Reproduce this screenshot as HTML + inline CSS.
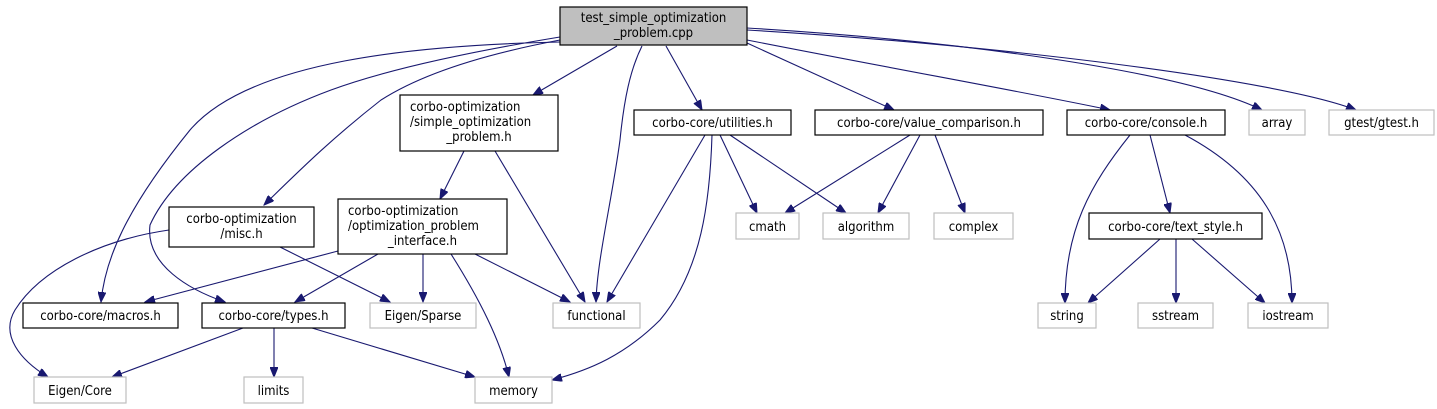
<!DOCTYPE html>
<html><head><meta charset="utf-8"><style>
html,body{margin:0;padding:0;background:#fff;}
svg{display:block;}
text{font-family:"DejaVu Sans Condensed","DejaVu Sans","Liberation Sans",sans-serif;font-size:13px;fill:#000;}
.b{fill:#fff;stroke:#000;stroke-width:1.2;}
.g{fill:#fff;stroke:#bfbfbf;stroke-width:1.2;}
.e{fill:none;stroke:#191970;stroke-width:1.1;}
</style></head><body>
<svg width="1437" height="409" viewBox="0 0 1437 409" xmlns="http://www.w3.org/2000/svg">
<defs><marker id="a" markerWidth="11" markerHeight="8" refX="10" refY="4" orient="auto" markerUnits="userSpaceOnUse"><path d="M0,0 L10,4 L0,8 z" fill="#191970" stroke="#191970"/></marker></defs>
<g class="e" marker-end="url(#a)">
<path d="M560,42 C420,45 250,60 190,130 C125,210 105,260 101,302"/>
<path d="M560,37 C450,55 380,72 331,90 C250,120 175,170 150,225 C145,265 190,290 225,302"/>
<path d="M560,40 C480,55 420,75 381,100 C330,140 300,170 264,205"/>
<path d="M617,46 L533,95"/>
<path d="M642,46 C630,70 624,100 620,140 C612,200 597,260 596,302"/>
<path d="M666,46 L702,110"/>
<path d="M747,43 L894,110"/>
<path d="M747,40 C900,70 1040,95 1110,110"/>
<path d="M747,28 C950,40 1180,70 1262,110"/>
<path d="M747,30 C1000,45 1280,80 1356,110"/>
<path d="M464,151 L440,199"/>
<path d="M495,151 L585,302"/>
<path d="M169,230 C100,240 40,270 15,310 C0,335 20,360 48,377"/>
<path d="M280,247 L390,302"/>
<path d="M338,251 L145,302"/>
<path d="M378,254 L295,302"/>
<path d="M423,254 L423,302"/>
<path d="M451,254 C480,300 500,340 509,377"/>
<path d="M475,254 L570,302"/>
<path d="M243,328 L112,377"/>
<path d="M274,328 L274,377"/>
<path d="M312,328 L475,377"/>
<path d="M705,135 L607,302"/>
<path d="M712,135 C710,200 702,270 660,320 C625,355 590,370 552,380"/>
<path d="M720,135 L757,213"/>
<path d="M730,135 L846,213"/>
<path d="M910,135 L785,213"/>
<path d="M920,135 L878,213"/>
<path d="M935,135 L965,213"/>
<path d="M1130,135 C1090,185 1065,230 1065,303"/>
<path d="M1150,135 L1170,213"/>
<path d="M1185,135 C1260,175 1292,230 1292,303"/>
<path d="M1160,239 L1088,303"/>
<path d="M1176,239 L1176,303"/>
<path d="M1192,239 L1265,303"/>
</g>
<rect x="560" y="7" width="187" height="38" fill="#bfbfbf" stroke="#000" stroke-width="1.2"/>
<text x="653.5" y="22" text-anchor="middle">test_simple_optimization</text>
<text x="653.5" y="37" text-anchor="middle">_problem.cpp</text>
<rect class="b" x="400" y="95" width="158" height="56"/>
<text x="410" y="111">corbo-optimization</text>
<text x="410" y="126">/simple_optimization</text>
<text x="479" y="141" text-anchor="middle">_problem.h</text>
<rect class="b" x="634" y="110" width="157" height="25"/>
<text x="712.5" y="127" text-anchor="middle">corbo-core/utilities.h</text>
<rect class="b" x="815" y="110" width="228" height="25"/>
<text x="929" y="127" text-anchor="middle">corbo-core/value_comparison.h</text>
<rect class="b" x="1067" y="110" width="158" height="25"/>
<text x="1146" y="127" text-anchor="middle">corbo-core/console.h</text>
<rect class="g" x="1249" y="110" width="56" height="25"/>
<text x="1277" y="127" text-anchor="middle">array</text>
<rect class="g" x="1329" y="110" width="105" height="25"/>
<text x="1381.5" y="127" text-anchor="middle">gtest/gtest.h</text>
<rect class="b" x="169" y="207" width="145" height="40"/>
<text x="241.5" y="223" text-anchor="middle">corbo-optimization</text>
<text x="241.5" y="238" text-anchor="middle">/misc.h</text>
<rect class="b" x="338" y="199" width="169" height="55"/>
<text x="348" y="215">corbo-optimization</text>
<text x="348" y="230">/optimization_problem</text>
<text x="422.5" y="245" text-anchor="middle">_interface.h</text>
<rect class="g" x="736" y="213" width="63" height="26"/>
<text x="767.5" y="231" text-anchor="middle">cmath</text>
<rect class="g" x="823" y="213" width="86" height="26"/>
<text x="866" y="231" text-anchor="middle">algorithm</text>
<rect class="g" x="934" y="213" width="79" height="26"/>
<text x="973.5" y="231" text-anchor="middle">complex</text>
<rect class="b" x="1089" y="213" width="173" height="26"/>
<text x="1175.5" y="231" text-anchor="middle">corbo-core/text_style.h</text>
<rect class="b" x="23" y="303" width="155" height="25"/>
<text x="100.5" y="320" text-anchor="middle">corbo-core/macros.h</text>
<rect class="b" x="202" y="303" width="143" height="25"/>
<text x="273.5" y="320" text-anchor="middle">corbo-core/types.h</text>
<rect class="g" x="370" y="303" width="106" height="25"/>
<text x="423" y="320" text-anchor="middle">Eigen/Sparse</text>
<rect class="g" x="553" y="303" width="87" height="25"/>
<text x="596.5" y="320" text-anchor="middle">functional</text>
<rect class="g" x="1038" y="303" width="58" height="25"/>
<text x="1067" y="320" text-anchor="middle">string</text>
<rect class="g" x="1138" y="303" width="75" height="25"/>
<text x="1175.5" y="320" text-anchor="middle">sstream</text>
<rect class="g" x="1248" y="303" width="80" height="25"/>
<text x="1288" y="320" text-anchor="middle">iostream</text>
<rect class="g" x="34" y="377" width="92" height="26"/>
<text x="80" y="395" text-anchor="middle">Eigen/Core</text>
<rect class="g" x="244" y="377" width="59" height="26"/>
<text x="273.5" y="395" text-anchor="middle">limits</text>
<rect class="g" x="475" y="377" width="77" height="26"/>
<text x="513.5" y="395" text-anchor="middle">memory</text>
</svg>
</body></html>
